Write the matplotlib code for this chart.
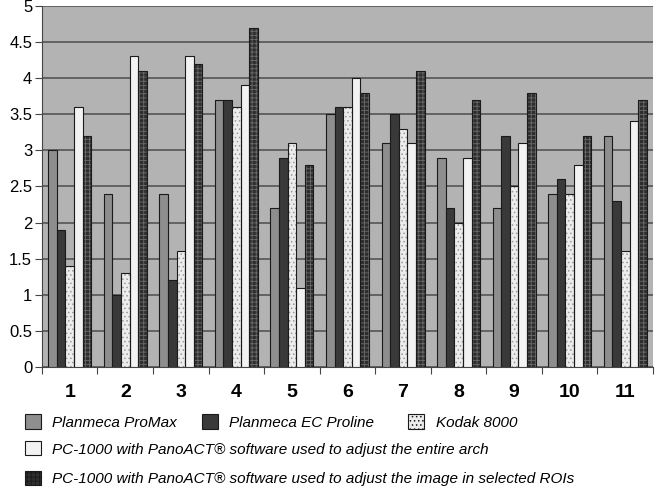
import numpy as np
import matplotlib.pyplot as plt
from matplotlib.patches import Patch

plt.rcParams['font.family'] = ['Liberation Sans', 'DejaVu Sans']
plt.rcParams['hatch.linewidth'] = 0.6

# Datos
grupos = ['1', '2', '3', '4', '5', '6', '7', '8', '9', '10', '11']
promax = [3.0, 2.4, 2.4, 3.7, 2.2, 3.5, 3.1, 2.9, 2.2, 2.4, 3.2]
ec_proline = [1.9, 1.0, 1.2, 3.7, 2.9, 3.6, 3.5, 2.2, 3.2, 2.6, 2.3]
kodak = [1.4, 1.3, 1.6, 3.6, 3.1, 3.6, 3.3, 2.0, 2.5, 2.4, 1.6]
pc_arch = [3.6, 4.3, 4.3, 3.9, 1.1, 4.0, 3.1, 2.9, 3.1, 2.8, 3.4]
pc_rois = [3.2, 4.1, 4.2, 4.7, 2.8, 3.8, 4.1, 3.7, 3.8, 3.2, 3.7]

series = [promax, ec_proline, kodak, pc_arch, pc_rois]
nombres = ['Planmeca ProMax', 'Planmeca EC Proline', 'Kodak 8000',
           'PC-1000 with PanoACT® software used to adjust the entire arch',
           'PC-1000 with PanoACT® software used to adjust the image in selected ROIs']
# (relleno, color de trama, trama)
estilos = [('#8e8e8e', None, None),
           ('#393939', None, None),
           ('#ececec', '#9a9a9a', '....'),
           ('#f2f2f2', None, None),
           ('#2e2e2e', '#6a6a6a', '++++')]

fig = plt.figure(figsize=(6.55, 4.88), dpi=100)
ax = fig.add_axes([0.064, 0.248, 0.933, 0.740])
ax.set_facecolor('#b3b3b3')

x = np.arange(len(grupos))
ancho = 0.155
for i, (vals, (color, hcolor, hatch)) in enumerate(zip(series, estilos)):
    pos = x + (i - 2) * ancho
    if hatch:
        ax.bar(pos, vals, ancho, color=color, edgecolor=hcolor, hatch=hatch,
               linewidth=0, zorder=3)
        ax.bar(pos, vals, ancho, fill=False, edgecolor='#1a1a1a', linewidth=0.8, zorder=4)
    else:
        ax.bar(pos, vals, ancho, color=color, edgecolor='#1a1a1a', linewidth=0.8, zorder=3)

ax.set_xlim(-0.5, len(grupos) - 0.5)
ax.set_ylim(0, 5)
ax.set_yticks(np.arange(0, 5.01, 0.5))
ax.set_yticklabels(['0', '0.5', '1', '1.5', '2', '2.5', '3', '3.5', '4', '4.5', '5'], fontsize=12)
ax.yaxis.grid(True, color='#555555', linewidth=1.2, zorder=0)
ax.set_axisbelow(True)

# marcas entre grupos y etiquetas centradas
ax.set_xticks(np.arange(-0.5, len(grupos), 1))
ax.set_xticklabels([])
ax.set_xticks(x, minor=True)
ax.set_xticklabels(grupos, minor=True, fontsize=14, fontweight='bold')
ax.tick_params(axis='x', which='minor', length=0, pad=12)
ax.tick_params(axis='x', which='major', length=5, color='#444444')
ax.tick_params(axis='y', length=5, color='#444444', pad=2)

for lado in ['top', 'right']:
    ax.spines[lado].set_visible(False)
ax.spines['left'].set_color('#444444')
ax.spines['bottom'].set_color('#444444')

# leyenda: una entrada por posición (x, y en fracción de figura)
anclas = [(0.038, 0.135), (0.308, 0.135), (0.623, 0.135),
          (0.038, 0.080), (0.038, 0.020)]
props = dict(prop={'style': 'italic', 'size': 11}, frameon=False, handlelength=1.05,
             handleheight=1.05, handletextpad=0.75, borderaxespad=0, borderpad=0)
for (color, hcolor, hatch), nombre, ancla in zip(estilos, nombres, anclas):
    manija = Patch(facecolor=color, edgecolor='#1a1a1a', hatch=hatch, linewidth=0.8)
    fig.legend([manija], [nombre], loc='center left', bbox_to_anchor=ancla, **props)

fig.savefig('out.png', dpi=100)
